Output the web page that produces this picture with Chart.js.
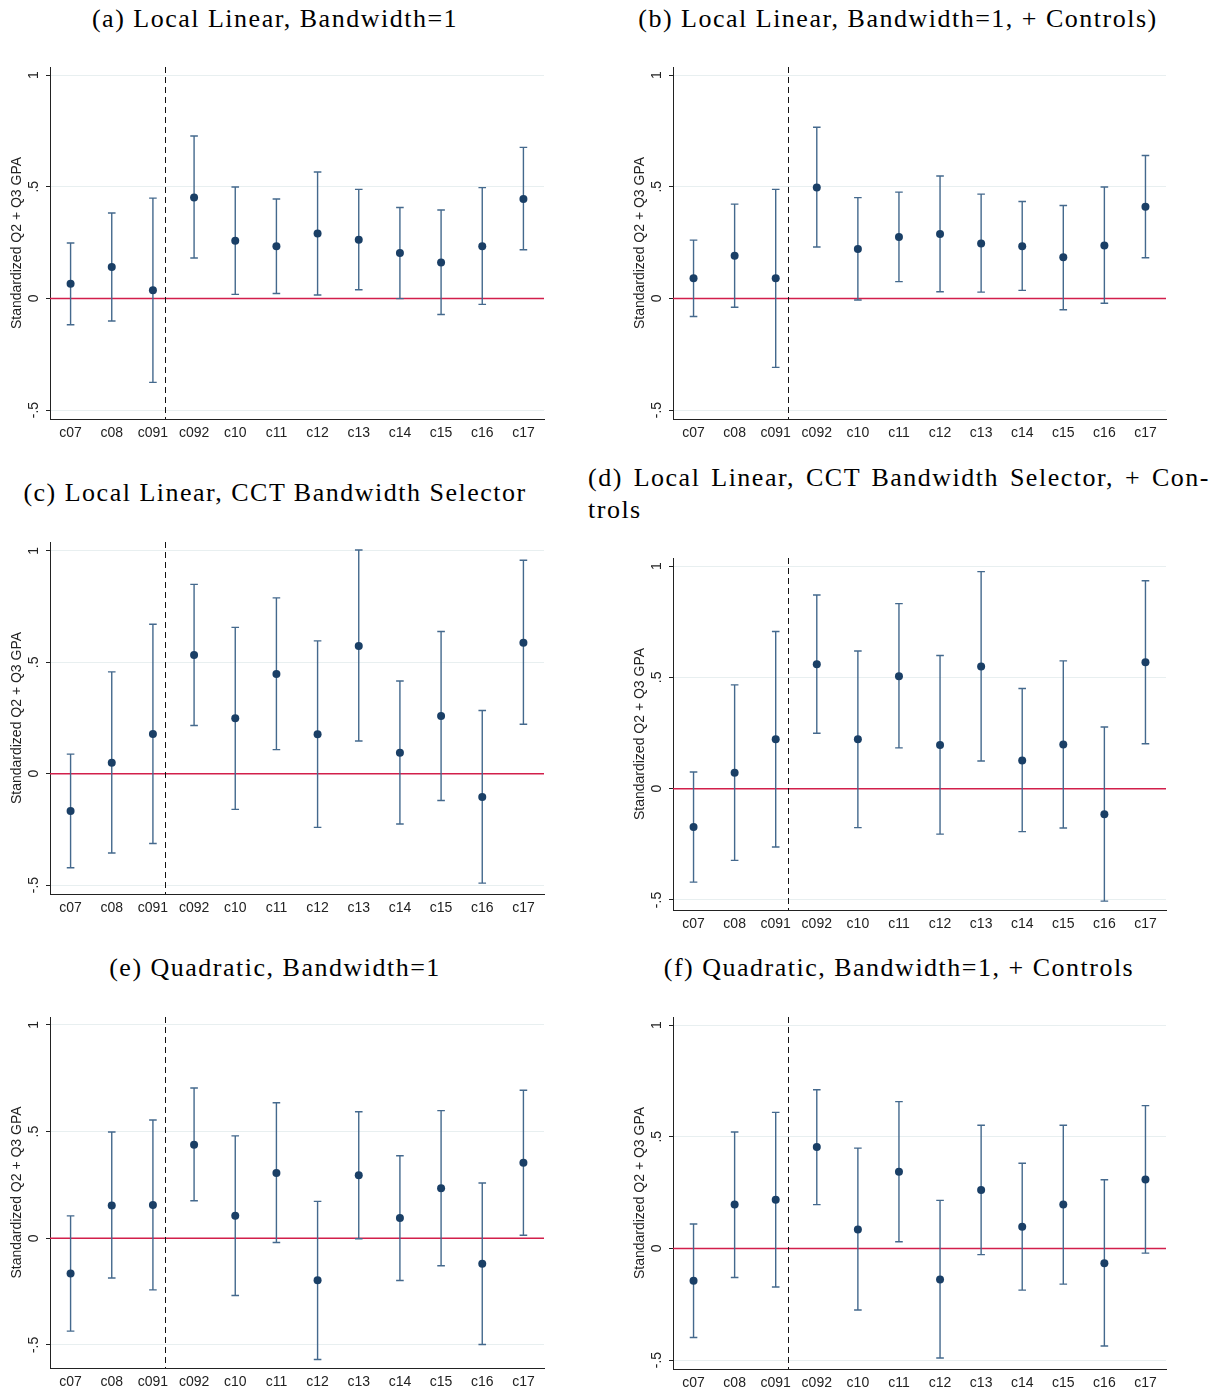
<!DOCTYPE html>
<html>
<head>
<meta charset="utf-8">
<script src="https://cdn.jsdelivr.net/npm/chart.js@4.4.1/dist/chart.umd.min.js"></script>
<style>
body { margin: 0; background: #fff; }
#page { position: relative; width: 1222px; height: 1393px; overflow: hidden; }
.ttl { position: absolute; font-family: "Liberation Serif", serif; font-size: 26px; letter-spacing: 1.5px; line-height: 30px; color: #000; white-space: nowrap; }
.mid { transform: translateX(-50%); }
.box { position: absolute; }
</style>
</head>
<body>
<div id="page">
  <div class="ttl mid" style="left:275px;top:4px">(a) Local Linear, Bandwidth=1</div>
  <div class="ttl mid" style="left:898px;top:4px">(b) Local Linear, Bandwidth=1, + Controls)</div>
  <div class="ttl mid" style="left:275px;top:478px">(c) Local Linear, CCT Bandwidth Selector</div>
  <div class="ttl" style="left:588px;top:463px;width:622px;text-align:justify;text-align-last:justify">(d) Local Linear, CCT Bandwidth Selector, + Con-</div>
  <div class="ttl" style="left:588px;top:495px">trols</div>
  <div class="ttl mid" style="left:275px;top:953px">(e) Quadratic, Bandwidth=1</div>
  <div class="ttl mid" style="left:899px;top:953px">(f) Quadratic, Bandwidth=1, + Controls</div>
</div>
<script>
const cohorts = ['c07', 'c08', 'c091', 'c092', 'c10', 'c11', 'c12', 'c13', 'c14', 'c15', 'c16', 'c17'];
const yTickVals = [-0.5, 0, 0.5, 1];
const yTickText = ['-.5', '0', '.5', '1'];
const cutoff = 3.3;   // dashed line between c091 and c092
const yTitle = 'Standardized Q2 + Q3 GPA';

// (a) Local Linear, Bandwidth=1
const estA  = [0.066, 0.140, 0.036, 0.452, 0.258, 0.233, 0.291, 0.263, 0.203, 0.161, 0.234, 0.445];
const lowA  = [-0.118, -0.101, -0.376, 0.181, 0.018, 0.022, 0.015, 0.039, -0.001, -0.072, -0.027, 0.218];
const highA = [0.248, 0.382, 0.449, 0.727, 0.499, 0.445, 0.566, 0.488, 0.407, 0.396, 0.496, 0.676];

// (b) Local Linear, Bandwidth=1, + Controls
const estB  = [0.090, 0.191, 0.090, 0.497, 0.221, 0.275, 0.288, 0.246, 0.234, 0.184, 0.237, 0.410];
const lowB  = [-0.081, -0.040, -0.309, 0.230, -0.007, 0.075, 0.030, 0.028, 0.036, -0.051, -0.022, 0.182];
const highB = [0.261, 0.422, 0.488, 0.766, 0.451, 0.476, 0.548, 0.467, 0.434, 0.416, 0.499, 0.640];

// (c) Local Linear, CCT Bandwidth Selector
const estC  = [-0.168, 0.049, 0.178, 0.533, 0.249, 0.448, 0.177, 0.573, 0.094, 0.259, -0.105, 0.588];
const lowC  = [-0.422, -0.356, -0.313, 0.216, -0.160, 0.108, -0.241, 0.147, -0.226, -0.120, -0.491, 0.222];
const highC = [0.088, 0.457, 0.671, 0.850, 0.657, 0.789, 0.596, 1.004, 0.416, 0.638, 0.284, 0.958];

// (d) Local Linear, CCT Bandwidth Selector, + Controls
const estD  = [-0.172, 0.072, 0.222, 0.559, 0.222, 0.505, 0.196, 0.549, 0.127, 0.198, -0.115, 0.568];
const lowD  = [-0.420, -0.322, -0.262, 0.249, -0.175, 0.183, -0.204, 0.124, -0.193, -0.177, -0.505, 0.202];
const highD = [0.075, 0.466, 0.706, 0.870, 0.618, 0.831, 0.598, 0.975, 0.450, 0.574, 0.277, 0.934];

// (e) Quadratic, Bandwidth=1
const estE  = [-0.165, 0.154, 0.156, 0.438, 0.106, 0.306, -0.197, 0.295, 0.095, 0.234, -0.119, 0.354];
const lowE  = [-0.435, -0.186, -0.242, 0.176, -0.268, -0.020, -0.568, -0.002, -0.198, -0.129, -0.498, 0.014];
const highE = [0.105, 0.498, 0.554, 0.704, 0.480, 0.635, 0.173, 0.593, 0.387, 0.598, 0.259, 0.694];

// (f) Quadratic, Bandwidth=1, + Controls
const estF  = [-0.145, 0.196, 0.218, 0.454, 0.085, 0.343, -0.139, 0.261, 0.097, 0.196, -0.066, 0.309];
const lowF  = [-0.399, -0.130, -0.173, 0.196, -0.276, 0.030, -0.491, -0.028, -0.187, -0.160, -0.437, -0.021];
const highF = [0.109, 0.521, 0.609, 0.710, 0.449, 0.657, 0.215, 0.551, 0.381, 0.551, 0.307, 0.639];

// plot area of each panel on the page
const panels = [
    { est: estA, low: lowA, high: highA, left: 50,  top: 67,   w: 494, h: 352, min: -0.54, max: 1.036 },
    { est: estB, low: lowB, high: highB, left: 673, top: 67,   w: 493, h: 352, min: -0.54, max: 1.036 },
    { est: estC, low: lowC, high: highC, left: 50,  top: 542,  w: 494, h: 352, min: -0.54, max: 1.04 },
    { est: estD, low: lowD, high: highD, left: 673, top: 558,  w: 493, h: 352, min: -0.545, max: 1.036 },
    { est: estE, low: lowE, high: highE, left: 50,  top: 1017, w: 494, h: 351, min: -0.608, max: 1.037 },
    { est: estF, low: lowF, high: highF, left: 673, top: 1017, w: 493, h: 352, min: -0.54, max: 1.036 }
];

const padL = 50, padT = 10, padR = 10, padB = 30;

// zero line, cutoff line and CI whiskers, drawn before the points
const rdDecor = {
    id: 'rdDecor',
    beforeDatasetsDraw(chart, args, opts) {
        const ctx = chart.ctx;
        const xs = chart.scales.x, ys = chart.scales.y, area = chart.chartArea;
        ctx.save();
        // red line at zero
        const y0 = ys.getPixelForValue(0);
        ctx.strokeStyle = '#d21f4b';
        ctx.lineWidth = 1.5;
        ctx.beginPath();
        ctx.moveTo(area.left, y0);
        ctx.lineTo(area.right, y0);
        ctx.stroke();
        // dashed cutoff
        const xc = Math.round(xs.getPixelForValue(cutoff)) + 0.5;
        ctx.strokeStyle = '#111';
        ctx.lineWidth = 1;
        ctx.setLineDash([6, 4]);
        ctx.beginPath();
        ctx.moveTo(xc, area.top);
        ctx.lineTo(xc, area.bottom);
        ctx.stroke();
        ctx.setLineDash([]);
        // whiskers
        ctx.strokeStyle = '#44698d';
        ctx.lineWidth = 1.4;
        opts.low.forEach((lo, i) => {
            const x = xs.getPixelForValue(i + 1);
            const yl = ys.getPixelForValue(lo);
            const yh = ys.getPixelForValue(opts.high[i]);
            ctx.beginPath();
            ctx.moveTo(x, yl);
            ctx.lineTo(x, yh);
            ctx.moveTo(x - 3.8, yl);
            ctx.lineTo(x + 3.8, yl);
            ctx.moveTo(x - 3.8, yh);
            ctx.lineTo(x + 3.8, yh);
            ctx.stroke();
        });
        ctx.restore();
    },
    afterDraw(chart) {
        // vertical y labels and axis title, Stata style
        const ctx = chart.ctx;
        const ys = chart.scales.y, area = chart.chartArea;
        ctx.save();
        ctx.fillStyle = '#222';
        ctx.font = '14px "Liberation Sans", Arial, sans-serif';
        ctx.textAlign = 'center';
        ctx.textBaseline = 'alphabetic';
        yTickVals.forEach((v, i) => {
            ctx.save();
            ctx.translate(area.left - 12, ys.getPixelForValue(v));
            ctx.rotate(-Math.PI / 2);
            ctx.fillText(yTickText[i], 0, 0);
            ctx.restore();
        });
        ctx.translate(area.left - 29, (area.top + area.bottom) / 2);
        ctx.rotate(-Math.PI / 2);
        ctx.fillText(yTitle, 0, 0);
        ctx.restore();
    }
};

const page = document.getElementById('page');

panels.forEach(p => {
    const box = document.createElement('div');
    box.className = 'box';
    box.style.left = (p.left - padL) + 'px';
    box.style.top = (p.top - padT) + 'px';
    const cv = document.createElement('canvas');
    const cw = p.w + padL + padR, ch = p.h + padT + padB;
    cv.width = cw;
    cv.height = ch;
    cv.style.width = cw + 'px';
    cv.style.height = ch + 'px';
    box.appendChild(cv);
    page.appendChild(box);

    new Chart(cv.getContext('2d'), {
        type: 'scatter',
        data: {
            datasets: [{
                data: p.est.map((v, i) => ({ x: i + 1, y: v })),
                backgroundColor: '#1a3f66',
                borderWidth: 0,
                pointRadius: 4,
                pointHoverRadius: 4
            }]
        },
        options: {
            responsive: false,
            animation: false,
            events: [],
            layout: { padding: { top: padT, right: padR, left: 0, bottom: 0 } },
            plugins: {
                legend: { display: false },
                tooltip: { enabled: false },
                rdDecor: { low: p.low, high: p.high }
            },
            scales: {
                x: {
                    type: 'linear',
                    min: 0.5,
                    max: 12.5,
                    afterBuildTicks: s => { s.ticks = cohorts.map((c, i) => ({ value: i + 1 })); },
                    afterFit: s => { s.height = padB; },
                    grid: { display: true, color: 'rgba(0,0,0,0)', drawTicks: false },
                    border: { display: true, color: '#222', width: 1 },
                    ticks: {
                        callback: v => cohorts[v - 1],
                        autoSkip: false,
                        maxRotation: 0,
                        padding: 6,
                        color: '#222',
                        font: { family: '"Liberation Sans", Arial, sans-serif', size: 14 }
                    }
                },
                y: {
                    type: 'linear',
                    min: p.min,
                    max: p.max,
                    afterBuildTicks: s => { s.ticks = yTickVals.map(v => ({ value: v })); },
                    afterFit: s => { s.width = padL; },
                    grid: { color: '#e8eff0', lineWidth: 1, tickColor: '#222', tickLength: 4, drawTicks: true },
                    border: { display: true, color: '#222', width: 1 },
                    ticks: { display: false }
                }
            }
        },
        plugins: [rdDecor]
    });
});
</script>
</body>
</html>
